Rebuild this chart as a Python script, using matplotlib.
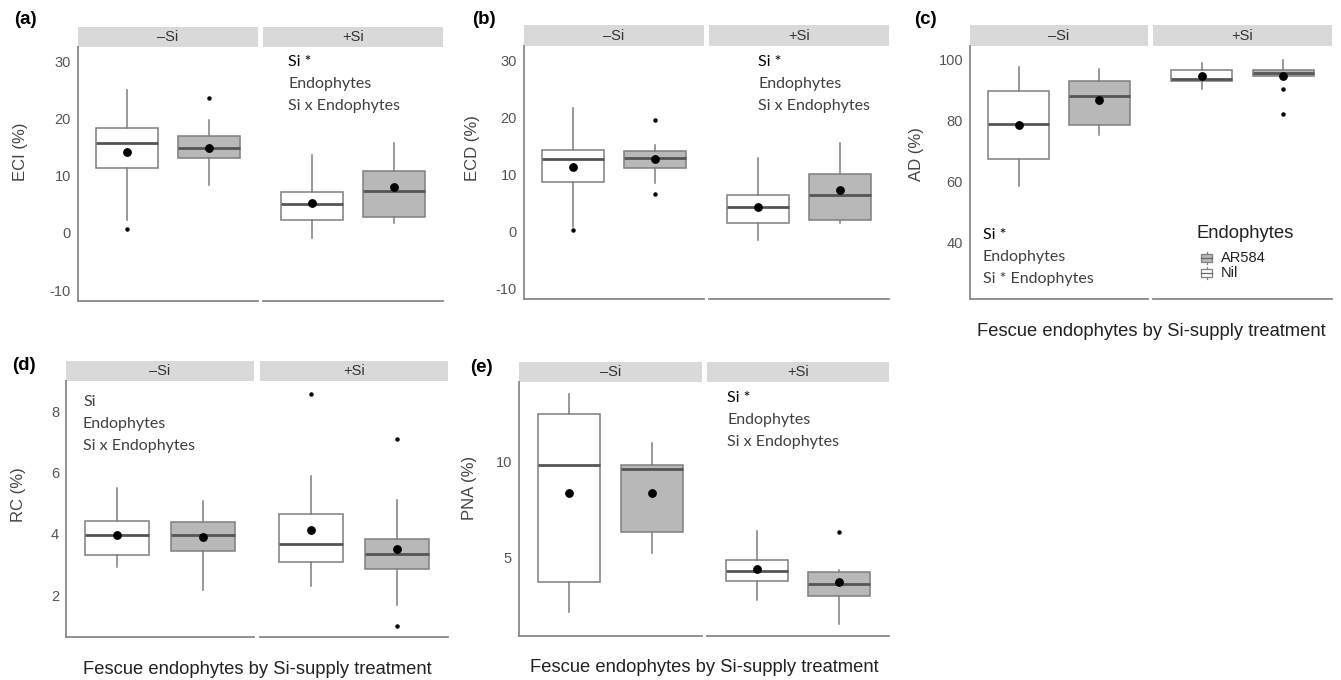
import matplotlib
matplotlib.use("Agg")
import matplotlib.pyplot as plt
from matplotlib.patches import Rectangle
from matplotlib.lines import Line2D

W, H = 1341, 680

treatments = ["–Si", "+Si"]
endophytes = ["Nil", "AR584"]
xlabel = "Fescue endophytes by Si-supply treatment"

# rows: Nil -Si, AR584 -Si, Nil +Si, AR584 +Si
# each row: whisker low, Q1, median, Q3, whisker high
eci_stats = [[2.2, 11.3, 15.7, 18.3, 24.9], [8.3, 13.1, 14.9, 17.0, 19.7],
             [-0.9, 2.3, 5.1, 7.2, 13.7], [1.7, 2.7, 7.4, 10.9, 15.7]]
eci_means = [14.2, 14.8, 5.3, 8.0]
eci_outliers = [[0.7], [23.5], [], []]

ecd_stats = [[0.8, 8.6, 12.6, 14.3, 21.6], [8.5, 11.1, 12.9, 14.0, 15.2],
             [-1.5, 1.5, 4.3, 6.3, 12.9], [1.5, 1.9, 6.4, 10.1, 15.5]]
ecd_means = [11.3, 12.6, 4.3, 7.2]
ecd_outliers = [[0.2], [19.5, 6.5], [], []]

ad_stats = [[58.6, 67.3, 78.9, 89.8, 97.6], [75.3, 78.7, 88.2, 93.0, 97.1],
            [90.5, 93.0, 93.8, 96.7, 99.0], [94.3, 94.5, 95.7, 96.7, 99.8]]
ad_means = [78.5, 86.7, 94.8, 94.8]
ad_outliers = [[], [], [], [90.5, 82.1]]

rc_stats = [[2.92, 3.30, 3.97, 4.42, 5.48], [2.16, 3.43, 3.95, 4.39, 5.08],
            [2.30, 3.09, 3.67, 4.64, 5.89], [1.67, 2.86, 3.33, 3.82, 5.10]]
rc_means = [3.97, 3.89, 4.12, 3.50]
rc_outliers = [[], [], [8.57], [7.10, 1.0]]

pna_stats = [[2.19, 3.72, 9.83, 12.47, 13.5], [5.23, 6.34, 9.60, 9.84, 10.95],
             [2.83, 3.80, 4.29, 4.88, 6.41], [1.55, 3.02, 3.63, 4.24, 4.39]]
pna_means = [8.35, 8.39, 4.44, 3.75]
pna_outliers = [[], [], [], [6.34]]

sig_si = ["Si *", "Endophytes", "Si x Endophytes"]
sig_c = ["Si *", "Endophytes", "Si * Endophytes"]
sig_d = ["Si", "Endophytes", "Si x Endophytes"]

legend_order = ["AR584", "Nil"]
fills = {"Nil": "white", "AR584": "#b8b8b8"}
edge = "#7f7f7f"

plt.rcParams["font.family"] = ["Liberation Sans", "DejaVu Sans"]
plt.rcParams["axes.unicode_minus"] = False
fig = plt.figure(figsize=(W / 100, H / 100), dpi=100)


def fx(x):
    return x / W


def fy(y):
    return 1 - y / H


def add_ax(x0, x1, y0, y1):
    return fig.add_axes([fx(x0), fy(y1), (x1 - x0) / W, (y1 - y0) / H])


def panel(tag, ylab, stats, means, outliers, ylim, yticks, facets, strip_top,
          strip_bot, bottom, tagpos, ylabpos, sig, sigpos, show_xlabel=None):
    for k, (x0, x1) in enumerate(facets):
        st = add_ax(x0, x1, strip_top, strip_bot)
        st.set_facecolor("#d9d9d9")
        st.set_xticks([]); st.set_yticks([])
        for s in st.spines.values():
            s.set_visible(False)
        st.text(0.5, 0.5, treatments[k], ha="center", va="center",
                fontsize=10.5, color="#333333", transform=st.transAxes)

        ax = add_ax(x0, x1, strip_bot, bottom)
        rows = []
        for j in range(2):
            i = 2 * k + j
            lo, q1, med, q3, hi = stats[i]
            rows.append(dict(whislo=lo, q1=q1, med=med, q3=q3, whishi=hi,
                             mean=means[i], fliers=outliers[i]))
        bp = ax.bxp(rows, positions=[1, 2], widths=0.75, patch_artist=True,
                    showmeans=True, showcaps=False,
                    boxprops=dict(edgecolor=edge, linewidth=1.1),
                    whiskerprops=dict(color=edge, linewidth=1.1),
                    medianprops=dict(color="#555555", linewidth=2),
                    meanprops=dict(marker="o", markerfacecolor="black",
                                   markeredgecolor="black", markersize=5.3),
                    flierprops=dict(marker="o", markerfacecolor="black",
                                    markeredgecolor="black", markersize=2.2))
        for patch, name in zip(bp["boxes"], endophytes):
            patch.set_facecolor(fills[name])
        ax.set_xlim(0.4, 2.6)
        ax.set_ylim(*ylim)
        ax.set_xticks([])
        for s in ("top", "right"):
            ax.spines[s].set_visible(False)
        ax.spines["bottom"].set_color("#8a8a8a")
        ax.spines["bottom"].set_linewidth(1.3)
        if k == 0:
            ax.spines["left"].set_color("#8a8a8a")
            ax.spines["left"].set_linewidth(1.3)
            ax.set_yticks(yticks)
            ax.tick_params(axis="y", length=0, pad=5, labelsize=10.5,
                           labelcolor="#555555")
        else:
            ax.spines["left"].set_visible(False)
            ax.set_yticks([])

    fig.text(fx(tagpos[0]), fy(tagpos[1]), tag, ha="center", va="center",
             fontsize=13.5, fontweight="bold")
    fig.text(fx(ylabpos[0]), fy(ylabpos[1]), ylab, ha="center", va="center",
             rotation=90, fontsize=12, color="#444444")
    for n, line in enumerate(sig):
        col = "black" if line.startswith("Si *") and n == 0 else "#404040"
        fig.text(fx(sigpos[0]), fy(sigpos[1] + 22 * n), line, ha="left",
                 va="center", fontsize=11.5, color=col,
                 family=["Lato", "DejaVu Sans"])
    if show_xlabel is not None:
        fig.text(fx(show_xlabel[0]), fy(show_xlabel[1]), xlabel, ha="center",
                 va="center", fontsize=13.2, color="#222222")


panel("(a)", "ECI (%)", eci_stats, eci_means, eci_outliers, (-11.9, 32.5),
      [-10, 0, 10, 20, 30], [(78, 258), (263, 443)], 27, 47, 301,
      (25, 20), (20, 152), sig_si, (288, 62))
panel("(b)", "ECD (%)", ecd_stats, ecd_means, ecd_outliers, (-11.9, 32.5),
      [-10, 0, 10, 20, 30], [(524, 704), (709, 889)], 25, 46, 299,
      (484, 20), (473, 148), sig_si, (758, 62))
panel("(c)", "AD (%)", ad_stats, ad_means, ad_outliers, (21.5, 104.5),
      [40, 60, 80, 100], [(970, 1148), (1153, 1332)], 25, 46, 299,
      (925, 20), (917, 154), sig_c, (983, 235), show_xlabel=(1151, 332))
panel("(d)", "RC (%)", rc_stats, rc_means, rc_outliers, (0.64, 8.98),
      [2, 4, 6, 8], [(66, 254), (260, 448)], 361, 381, 637,
      (24, 366), (18, 495), sig_d, (83, 402), show_xlabel=(257, 670))
panel("(e)", "PNA (%)", pna_stats, pna_means, pna_outliers, (0.94, 14.13),
      [5, 10], [(519, 702), (707, 889)], 362, 382, 636,
      (481, 367), (469, 488), sig_si, (727, 398), show_xlabel=(704, 668))

# legend for panel (c), drawn as small boxplot keys
fig.text(fx(1196), fy(233), "Endophytes", ha="left", va="center",
         fontsize=13.3, color="#222222")
for n, name in enumerate(legend_order):
    yc = 258 + 15 * n
    fig.patches.append(Rectangle((fx(1201), fy(yc + 4)), 11 / W, 8 / H,
                                 facecolor=fills[name], edgecolor=edge,
                                 linewidth=0.9, transform=fig.transFigure))
    fig.lines.append(Line2D([fx(1201), fx(1212)], [fy(yc), fy(yc)],
                            color="#666666", linewidth=0.9,
                            transform=fig.transFigure))
    fig.lines.append(Line2D([fx(1206.5), fx(1206.5)], [fy(yc - 6), fy(yc - 4)],
                            color=edge, linewidth=0.9, transform=fig.transFigure))
    fig.lines.append(Line2D([fx(1206.5), fx(1206.5)], [fy(yc + 4), fy(yc + 6)],
                            color=edge, linewidth=0.9, transform=fig.transFigure))
    fig.text(fx(1221), fy(yc), name, ha="left", va="center", fontsize=10.5,
             color="#222222")

fig.savefig("out.png", dpi=100, facecolor="white")
